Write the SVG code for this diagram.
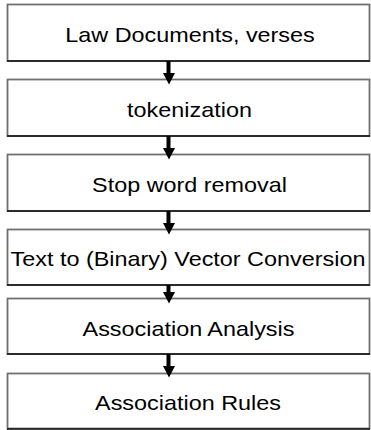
<svg xmlns="http://www.w3.org/2000/svg" width="371" height="430" viewBox="0 0 371 430">
<style>
.box{fill:#fff;stroke:#707070;stroke-width:1.8}
.edge{stroke:#111;stroke-width:1.4}
.lbl{font-family:"Liberation Sans",Arial,sans-serif;font-size:20px;fill:#000;text-anchor:middle}
.shaft{stroke:#000;stroke-width:4}
.head{fill:#000}
</style>
<rect width="371" height="430" fill="#fff"/>
<g id="n1"><rect class="box" x="7.5" y="4.5" width="362" height="56.5"/><line class="edge" x1="7" y1="61" x2="370" y2="61"/><text class="lbl" transform="translate(190,42) scale(1.17,1)">Law Documents, verses</text></g>
<g id="n2"><rect class="box" x="7.5" y="79.5" width="362" height="56.5"/><line class="edge" x1="7" y1="136" x2="370" y2="136"/><text class="lbl" transform="translate(189.5,117) scale(1.17,1)">tokenization</text></g>
<g id="n3"><rect class="box" x="7.5" y="154.5" width="362" height="56.5"/><line class="edge" x1="7" y1="211" x2="370" y2="211"/><text class="lbl" transform="translate(189.5,192) scale(1.17,1)">Stop word removal</text></g>
<g id="n4"><rect class="box" x="7.5" y="229.5" width="362" height="55.5"/><line class="edge" x1="7" y1="285" x2="370" y2="285"/><text class="lbl" transform="translate(188,266) scale(1.17,1)">Text to (Binary) Vector Conversion</text></g>
<g id="n5"><rect class="box" x="7.5" y="298.5" width="362" height="55.5"/><line class="edge" x1="7" y1="354" x2="370" y2="354"/><text class="lbl" transform="translate(188.5,336) scale(1.17,1)">Association Analysis</text></g>
<g id="n6"><rect class="box" x="7.5" y="373.5" width="362" height="55"/><line class="edge" x1="7" y1="429" x2="370" y2="429"/><text class="lbl" transform="translate(188,410) scale(1.17,1)">Association Rules</text></g>
<g id="connectors">
<line class="shaft" x1="168.5" y1="61" x2="168.5" y2="74"/><polygon class="head" points="163,73 175,73 169,84.5"/>
<line class="shaft" x1="168.5" y1="136" x2="168.5" y2="149"/><polygon class="head" points="163,148 175,148 169,159.5"/>
<line class="shaft" x1="168.5" y1="211" x2="168.5" y2="224"/><polygon class="head" points="163,223 175,223 169,234.5"/>
<line class="shaft" x1="168.5" y1="285" x2="168.5" y2="293"/><polygon class="head" points="163,292 175,292 169,303.5"/>
<line class="shaft" x1="168.5" y1="354" x2="168.5" y2="367"/><polygon class="head" points="163,366 175,366 169,377.5"/>
</g>
</svg>
